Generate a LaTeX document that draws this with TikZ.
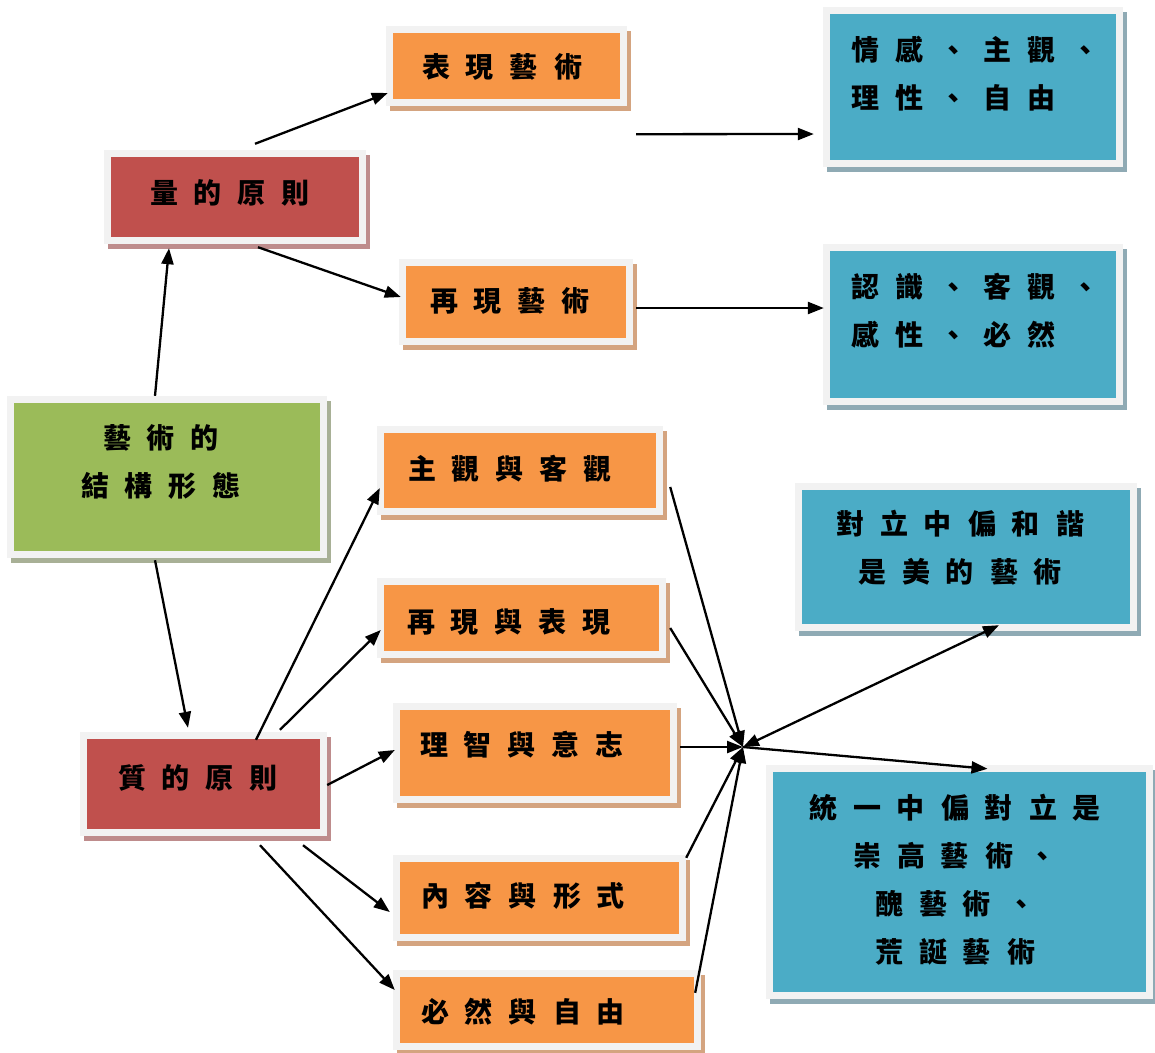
\documentclass[tikz,border=0pt]{standalone}
\usepackage{fontspec}
\setmainfont{Noto Sans CJK TC}
\usetikzlibrary{arrows.meta, shadows}

\definecolor{frame}{RGB}{242,242,242}
\definecolor{boxred}{HTML}{C0504D}
\definecolor{shred}{RGB}{190,140,140}
\definecolor{boxorg}{HTML}{F79646}
\definecolor{shorg}{RGB}{212,164,128}
\definecolor{boxgrn}{HTML}{9BBB59}
\definecolor{shgrn}{RGB}{168,176,150}
\definecolor{boxblu}{HTML}{4BACC6}
\definecolor{shblu}{RGB}{143,170,180}

\begin{document}
\begin{tikzpicture}[x=1pt, y=-1pt,
  box/.style 2 args={rectangle, inner sep=0pt, fill=frame,
    drop shadow={shadow xshift=4pt, shadow yshift=-5pt, fill=#2, opacity=1},
    path picture={\fill[#1] ([shift={(7pt,-7pt)}]path picture bounding box.north west)
      rectangle ([shift={(-7pt,7pt)}]path picture bounding box.south east);}},
  txt/.style={font={\bfseries\fontsize{28}{48}\selectfont\spaceskip=16pt\relax}, align=center, inner sep=0pt},
  tip/.style={Triangle[length=16pt,width=12pt]},
  arr/.style={-{Triangle[length=16pt,width=12pt]}, line width=2.3pt}]
\useasboundingbox (0,0) rectangle (1155,1052);

% Boxes
\node[box={boxgrn}{shgrn}, minimum width=320pt, minimum height=162pt] (art) at (167,477) {};
\node[box={boxred}{shred}, minimum width=262pt, minimum height=94pt] (quant) at (235,197) {};
\node[box={boxred}{shred}, minimum width=247pt, minimum height=104pt] (qual) at (203.5,784) {};
\node[box={boxorg}{shorg}, minimum width=241pt, minimum height=80pt] (expr) at (506.5,66) {};
\node[box={boxorg}{shorg}, minimum width=234pt, minimum height=86pt] (repr) at (516,302) {};
\node[box={boxorg}{shorg}, minimum width=286pt, minimum height=89pt] (subj) at (520,470.5) {};
\node[box={boxorg}{shorg}, minimum width=289pt, minimum height=80pt] (reex) at (521.5,618) {};
\node[box={boxorg}{shorg}, minimum width=284pt, minimum height=100pt] (reas) at (535,753) {};
\node[box={boxorg}{shorg}, minimum width=293pt, minimum height=86pt] (cont) at (539.5,898) {};
\node[box={boxorg}{shorg}, minimum width=308pt, minimum height=80pt] (nece) at (547,1010) {};
\node[box={boxblu}{shblu}, minimum width=300pt, minimum height=160pt] (emo) at (973,87) {};
\node[box={boxblu}{shblu}, minimum width=300pt, minimum height=161pt] (cog) at (973,324.5) {};
\node[box={boxblu}{shblu}, minimum width=342pt, minimum height=148pt] (harm) at (966,557) {};
\node[box={boxblu}{shblu}, minimum width=387pt, minimum height=234pt] (sub) at (959.5,882) {};

% Texts
\node[txt] (art-t) at (161,462) {藝 術 的\\結 構 形 態};
\node[txt] (quant-t) at (230,193) {量 的 原 則};
\node[txt] (qual-t) at (198,778) {質 的 原 則};
\node[txt] (expr-t) at (502,67) {表 現 藝 術};
\node[txt] (repr-t) at (510,301) {再 現 藝 術};
\node[txt] (subj-t) at (510,469) {主 觀 與 客 觀};
\node[txt] (reex-t) at (509,622) {再 現 與 表 現};
\node[txt] (reas-t) at (522,745) {理 智 與 意 志};
\node[txt] (cont-t) at (523,896) {內 容 與 形 式};
\node[txt] (nece-t) at (523,1012) {必 然 與 自 由};
\node[txt, align=left, anchor=west] (emo-t) at (851,74) {情 感 、 主 觀 、\\理 性 、 自 由};
\node[txt, align=left, anchor=west] (cog-t) at (851,310.5) {認 識 、 客 觀 、\\感 性 、 必 然};
\node[txt] (harm-t) at (960,548) {對 立 中 偏 和 諧\\是 美 的 藝 術};
\node[txt] (sub-t) at (955,880) {統 一 中 偏 對 立 是\\崇 高 藝 術 、\\醜 藝 術 、\\荒 誕 藝 術};

% Arrows
\coordinate (hub) at (743,747);
\draw[arr] ([shift={(-12,0)}]art.north) -- ([shift={(-66,4)}]quant.south);
\draw[arr] ([shift={(-12,2)}]art.south) -- ([shift={(-15.5,-4)}]qual.north);
\draw[arr] ([shift={(20,-6)}]quant.north) -- ([shift={(2,27)}]expr.west);
\draw[arr] ([shift={(23,3)}]quant.south) -- ([shift={(2,-5)}]repr.west);
\draw[arr] ([shift={(9,28)}]expr.south east) -- ([shift={(-9,47)}]emo.west);
\draw[arr] ([shift={(3,6)}]repr.east) -- ([shift={(1,-16.5)}]cog.west);
\draw[arr] ([shift={(52.5,8)}]qual.north) -- ([shift={(3,17.5)}]subj.west);
\draw[arr] ([shift={(76.5,-2)}]qual.north) -- ([shift={(4,12)}]reex.west);
\draw[arr] ([shift={(0,1)}]qual.east) -- ([shift={(2,-3)}]reas.west);
\draw[arr] ([shift={(99.5,9)}]qual.south) -- ([shift={(-3,14)}]cont.west);
\draw[arr] ([shift={(56.5,9)}]qual.south) -- ([shift={(2,-20)}]nece.west);
\foreach \src/\dx/\dy in {subj.east/7/16.5, reex.east/4/10, reas.east/3/-6,
    cont.north east/0/3, nece.north east/-6/23}
  \draw[arr] ([shift={(\dx,\dy)}]\src) -- (hub);
\draw[arr, {Triangle[length=16pt,width=12pt]}-{Triangle[length=16pt,width=12pt]}] (hub) -- ([shift={(33,-6)}]harm.south);
\draw[arr] (hub) -- ([shift={(28,4)}]sub.north);
\end{tikzpicture}
\end{document}
